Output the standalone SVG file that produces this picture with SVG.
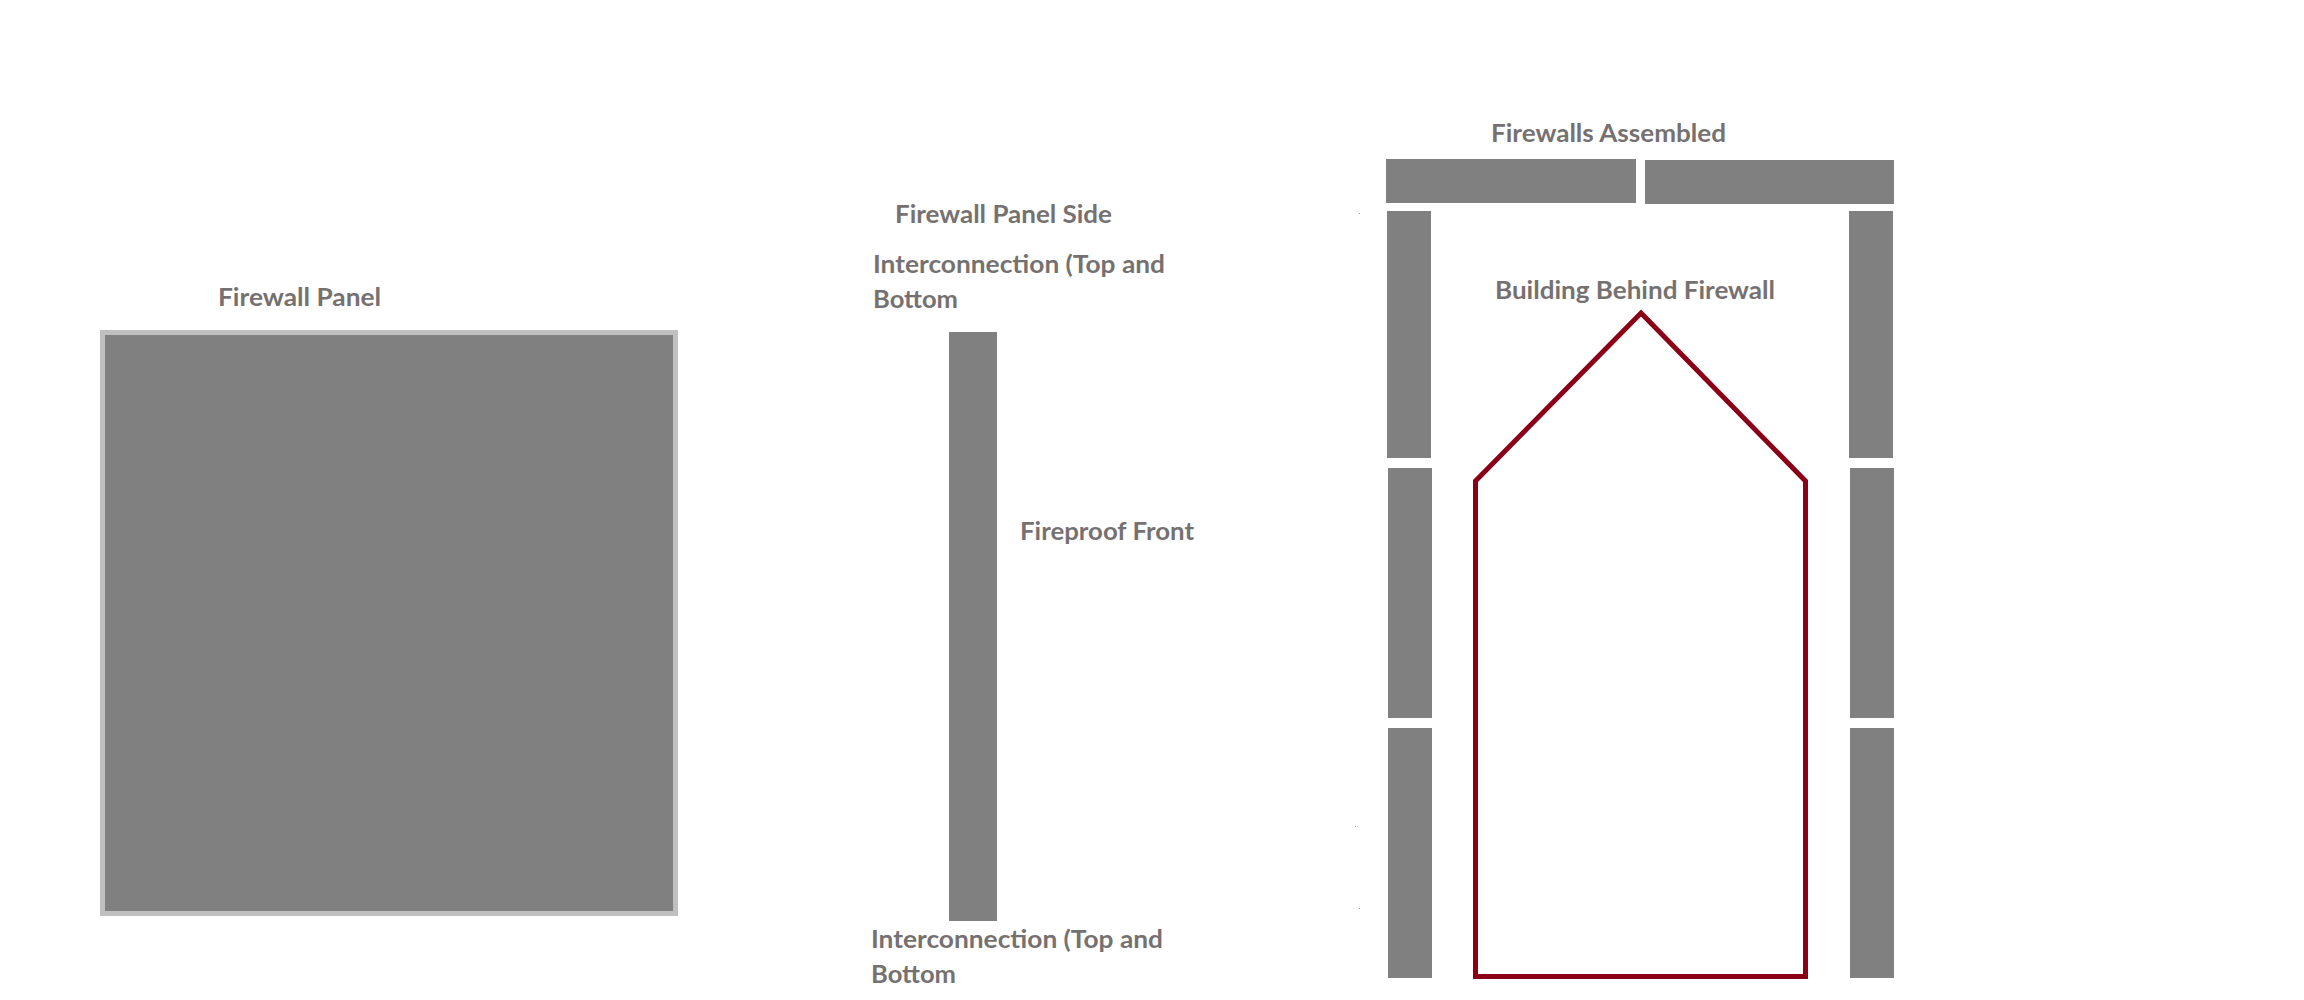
<svg xmlns="http://www.w3.org/2000/svg" width="2304" height="1000" viewBox="0 0 2304 1000">
<style>
.t{font-family:Lato,"Liberation Sans",sans-serif;font-weight:bold;font-size:24px;fill:#767171}
.p{fill:#808080}
.s{fill:#a0a0a0}
</style>
<rect width="2304" height="1000" fill="#ffffff"/>
<g id="firewall-panel">
<rect x="102.5" y="332.5" width="573" height="581" fill="#808080" stroke="#c0c0c0" stroke-width="5"/>
<text class="t" x="218" y="306" textLength="163" lengthAdjust="spacingAndGlyphs">Firewall Panel</text>
</g>
<g id="firewall-panel-side">
<text class="t" x="895" y="223" textLength="217" lengthAdjust="spacingAndGlyphs">Firewall Panel Side</text>
<text class="t" x="873" y="273" textLength="292" lengthAdjust="spacingAndGlyphs">Interconnection (Top and</text>
<text class="t" x="873" y="308" textLength="85" lengthAdjust="spacingAndGlyphs">Bottom</text>
<rect class="p" x="949" y="332" width="48" height="589"/>
<text class="t" x="1020" y="540" textLength="174" lengthAdjust="spacingAndGlyphs">Fireproof Front</text>
<text class="t" x="871" y="948" textLength="292" lengthAdjust="spacingAndGlyphs">Interconnection (Top and</text>
<text class="t" x="871" y="983" textLength="85" lengthAdjust="spacingAndGlyphs">Bottom</text>
</g>
<g id="firewalls-assembled">
<text class="t" x="1491" y="142" textLength="235" lengthAdjust="spacingAndGlyphs">Firewalls Assembled</text>
<rect class="p" x="1386" y="159" width="250" height="44"/>
<rect class="p" x="1645" y="160" width="249" height="44"/>
<rect class="p" x="1387" y="211" width="44" height="247"/>
<rect class="p" x="1388" y="468" width="44" height="250"/>
<rect class="p" x="1388" y="728" width="44" height="250"/>
<rect class="p" x="1849" y="211" width="44" height="247"/>
<rect class="p" x="1850" y="468" width="44" height="250"/>
<rect class="p" x="1850" y="728" width="44" height="250"/>
<rect class="s" x="1359" y="213" width="1" height="1"/>
<rect class="s" x="1355" y="826" width="1" height="1"/>
<rect class="s" x="1359" y="908" width="1" height="1"/>
</g>
<g id="building">
<text class="t" x="1495" y="299" textLength="280" lengthAdjust="spacingAndGlyphs">Building Behind Firewall</text>
<polygon points="1641,313 1805.5,481 1805.5,976.5 1475.5,976.5 1475.5,481" fill="none" stroke="#8b0016" stroke-width="5" stroke-linejoin="miter"/>
</g>
</svg>
